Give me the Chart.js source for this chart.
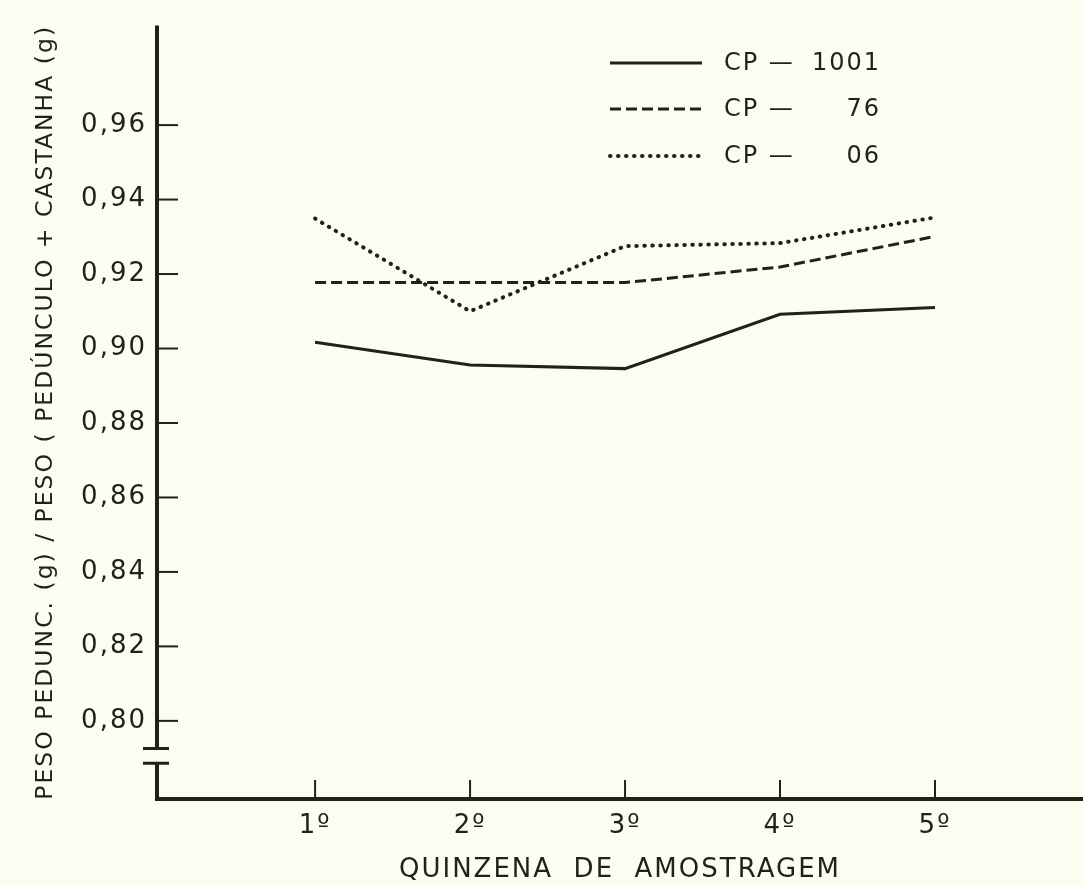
<!DOCTYPE html>
<html><head><meta charset="utf-8">
<script src="https://cdn.jsdelivr.net/npm/chart.js@4"></script>
<style>html,body{margin:0;padding:0;background:#fcfcf0;overflow:hidden}#wrap{width:1083px;height:886px;position:relative}</style>
</head><body><div id="wrap"><canvas id="c" width="1083" height="886"></canvas></div>
<script>
// ---- data ----
const categories = ['1º', '2º', '3º', '4º', '5º'];
const cp1001 = [0.9017, 0.8956, 0.8946, 0.9092, 0.9110];
const cp76   = [0.9177, 0.9177, 0.9177, 0.9219, 0.9301];
const cp06   = [0.9349, 0.9100, 0.9275, 0.9283, 0.9352];
const yTicks = [0.80, 0.82, 0.84, 0.86, 0.88, 0.90, 0.92, 0.94, 0.96];
const seriesNames = ['CP — 1001', 'CP — 76', 'CP — 06'];
const yTitle = 'PESO PEDUNC. (g) / PESO ( PEDÚNCULO + CASTANHA (g)';
const xTitle = 'QUINZENA  DE  AMOSTRAGEM';
const breakHigh = 0.7926, breakLow = 0.7886;

const INK = '#1c241a';
const FONT = 'DejaVu Sans';

const toPts = arr => arr.map((v, i) => ({ x: i + 1, y: v }));

const axisPlugin = {
  id: 'axesDraw',
  beforeDraw(chart) {
    const ctx = chart.ctx;
    ctx.save();
    ctx.fillStyle = '#fcfcf0';
    ctx.fillRect(0, 0, chart.width, chart.height);
    ctx.restore();
    ctx.letterSpacing = '2px';
  },
  afterDraw(chart) {
    const { ctx, chartArea: a, scales: { x, y } } = chart;
    ctx.save();
    ctx.letterSpacing = '0px';
    ctx.strokeStyle = INK;
    ctx.lineCap = 'butt';
    const yb1 = y.getPixelForValue(breakHigh), yb2 = y.getPixelForValue(breakLow);
    ctx.lineWidth = 4;
    ctx.beginPath();
    ctx.moveTo(a.left, a.top); ctx.lineTo(a.left, yb1);
    ctx.moveTo(a.left, yb2); ctx.lineTo(a.left, a.bottom + 2);
    ctx.stroke();
    ctx.beginPath();
    ctx.moveTo(a.left - 2, a.bottom); ctx.lineTo(a.right, a.bottom);
    ctx.stroke();
    ctx.lineWidth = 3;
    ctx.beginPath();
    ctx.moveTo(a.left - 14, yb1); ctx.lineTo(a.left + 12, yb1);
    ctx.moveTo(a.left - 14, yb2); ctx.lineTo(a.left + 12, yb2);
    ctx.stroke();
    ctx.lineWidth = 2;
    y.ticks.forEach(t => {
      const p = y.getPixelForValue(t.value);
      ctx.beginPath(); ctx.moveTo(a.left, p); ctx.lineTo(a.left + 21, p); ctx.stroke();
    });
    x.ticks.forEach(t => {
      const p = x.getPixelForValue(t.value);
      ctx.beginPath(); ctx.moveTo(p, a.bottom); ctx.lineTo(p, a.bottom - 19); ctx.stroke();
    });
    // legend
    const legY = [63, 109, 156];
    chart.data.datasets.forEach((ds, i) => {
      const ly = legY[i];
      ctx.save();
      ctx.strokeStyle = ds.borderColor;
      ctx.lineWidth = ds.borderWidth;
      ctx.setLineDash(ds.borderDash || []);
      ctx.lineCap = ds.borderCapStyle || 'butt';
      ctx.beginPath(); ctx.moveTo(610, ly); ctx.lineTo(702, ly); ctx.stroke();
      ctx.restore();
      const parts = ds.label.split(' ');
      const num = parts.pop();
      ctx.fillStyle = INK;
      ctx.font = '24px "' + FONT + '"';
      ctx.textBaseline = 'middle';
      ctx.letterSpacing = '2px';
      ctx.textAlign = 'left';
      ctx.fillText(parts.join(' '), 724, ly + 1);
      ctx.textAlign = 'right';
      ctx.fillText(num, 881, ly + 1);
    });
    ctx.restore();
  }
};

new Chart(document.getElementById('c'), {
  type: 'line',
  data: {
    datasets: [
      { label: seriesNames[0], data: toPts(cp1001), borderColor: INK, borderWidth: 3, borderDash: [], pointRadius: 0, tension: 0 },
      { label: seriesNames[1], data: toPts(cp76), borderColor: INK, borderWidth: 3, borderDash: [11, 5], pointRadius: 0, tension: 0 },
      { label: seriesNames[2], data: toPts(cp06), borderColor: INK, borderWidth: 4, borderDash: [0.5, 7.5], borderCapStyle: 'round', pointRadius: 0, tension: 0 }
    ]
  },
  options: {
    responsive: false,
    animation: false,
    devicePixelRatio: 1,
    layout: { padding: { top: 17, left: 0, right: 0, bottom: 0 } },
    plugins: { legend: { display: false }, tooltip: { enabled: false } },
    scales: {
      x: {
        type: 'linear', min: -0.02, max: 5.955,
        afterFit(s) { s.height = 87; },
        afterBuildTicks(s) { s.ticks = categories.map((c, i) => ({ value: i + 1 })); },
        grid: { display: false, drawTicks: false },
        border: { display: false },
        ticks: {
          autoSkip: false, maxRotation: 0, padding: 12, color: INK,
          font: { family: FONT, size: 26 },
          callback: v => categories[Math.round(v) - 1]
        },
        title: { display: true, text: xTitle, color: INK, font: { family: FONT, size: 26 }, padding: { top: 0, bottom: 0 } }
      },
      y: {
        min: 0.77902, max: 0.98672,
        afterFit(s) { s.width = 157; },
        afterBuildTicks(s) { s.ticks = yTicks.map(v => ({ value: v })); },
        grid: { display: false, drawTicks: false },
        border: { display: false },
        ticks: {
          autoSkip: false, padding: 10, color: INK,
          font: { family: FONT, size: 26 },
          callback: v => v.toFixed(2).replace('.', ',')
        },
        title: { display: true, text: yTitle, color: INK, font: { family: FONT, size: 23.5 }, padding: { top: 32, bottom: 0 } }
      }
    }
  },
  plugins: [axisPlugin]
});
</script>
</body></html>
